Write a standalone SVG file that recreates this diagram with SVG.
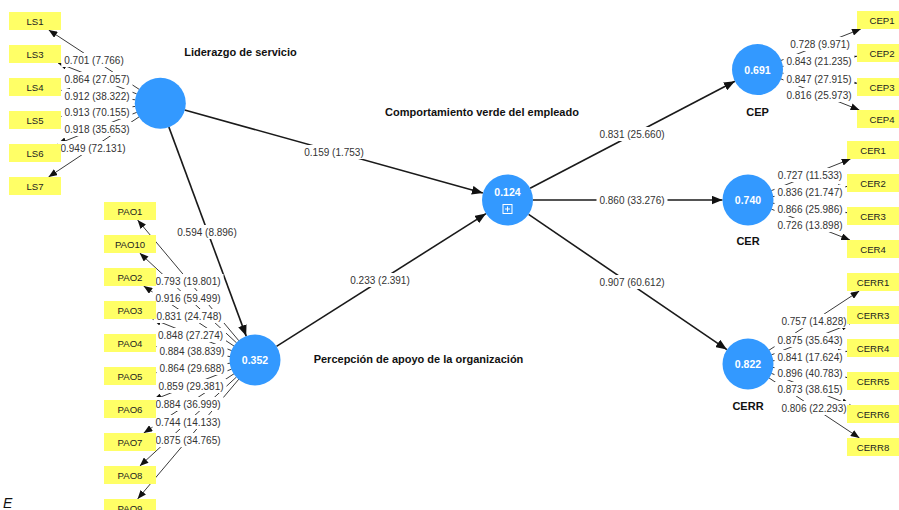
<svg xmlns="http://www.w3.org/2000/svg" width="899" height="510" viewBox="0 0 899 510">
<style>
.bg{fill:#ffffff}
.ln{stroke:#3a3a3a;stroke-width:1;fill:none;marker-end:url(#ai)}
.sl{stroke:#1a1a1a;stroke-width:1.6;fill:none;marker-end:url(#as)}
.lb{fill:#ffffff}
.lt{font-family:"Liberation Sans",Arial,sans-serif;font-size:10px;fill:#333333;text-anchor:middle}
.lv{fill:#3399ff}
.vt{font-family:"Liberation Sans",Arial,sans-serif;font-size:10.5px;font-weight:bold;fill:#ffffff;text-anchor:middle}
.nt{font-family:"Liberation Sans",Arial,sans-serif;font-size:11px;font-weight:bold;fill:#111111;text-anchor:middle}
.ib{fill:#ffff66}
.it{font-family:"Liberation Sans",Arial,sans-serif;font-size:9.6px;fill:#222222;text-anchor:middle}
</style>
<defs>
<marker id="ai" viewBox="0 0 10 8" refX="10" refY="4" markerWidth="9" markerHeight="7" markerUnits="userSpaceOnUse" orient="auto"><path d="M0,0 L10,4 L0,8 z" fill="#111"/></marker>
<marker id="as" viewBox="0 0 10 8" refX="10" refY="4" markerWidth="11" markerHeight="9" markerUnits="userSpaceOnUse" orient="auto"><path d="M0,0 L10,4 L0,8 z" fill="#111"/></marker>
</defs>
<rect class="bg" x="0" y="0" width="899" height="510"/>

<g id="connectors">
  <line class="sl" x1="184.6" y1="109.9" x2="482.9" y2="193.1"/>
  <line class="sl" x1="168.8" y1="126.9" x2="246.2" y2="336.1"/>
  <line class="sl" x1="276.5" y1="346.4" x2="486" y2="213.6"/>
  <line class="sl" x1="530.1" y1="188.2" x2="734.9" y2="81.3"/>
  <line class="sl" x1="533" y1="200" x2="722.5" y2="200"/>
  <line class="sl" x1="528.6" y1="214.4" x2="726.9" y2="349.6"/>
  <line class="ln" x1="139.1" y1="89.3" x2="48.7" y2="30"/>
  <line class="ln" x1="136.7" y1="93.9" x2="58" y2="63"/>
  <line class="ln" x1="135.2" y1="99.8" x2="61" y2="90.3"/>
  <line class="ln" x1="135.2" y1="106.4" x2="61" y2="116.5"/>
  <line class="ln" x1="136.8" y1="112.3" x2="57.5" y2="144"/>
  <line class="ln" x1="139.2" y1="116.8" x2="48.5" y2="177"/>
  <line class="ln" x1="238.9" y1="340.8" x2="137.6" y2="220"/>
  <line class="ln" x1="236.7" y1="343" x2="139.7" y2="253"/>
  <line class="ln" x1="234.2" y1="346.2" x2="143.6" y2="286"/>
  <line class="ln" x1="231.8" y1="350.7" x2="152.5" y2="319"/>
  <line class="ln" x1="230.2" y1="356.6" x2="156" y2="346.5"/>
  <line class="ln" x1="230.2" y1="363.2" x2="156" y2="372.7"/>
  <line class="ln" x1="231.7" y1="369.1" x2="153" y2="400"/>
  <line class="ln" x1="234.1" y1="373.7" x2="143.7" y2="433"/>
  <line class="ln" x1="236.6" y1="376.9" x2="139.8" y2="466"/>
  <line class="ln" x1="238.9" y1="379.1" x2="137.6" y2="499"/>
  <line class="ln" x1="780.7" y1="60.6" x2="860.8" y2="29"/>
  <line class="ln" x1="782.2" y1="66.5" x2="857" y2="56.2"/>
  <line class="ln" x1="782.3" y1="73.1" x2="857" y2="83.2"/>
  <line class="ln" x1="780.9" y1="78.9" x2="859.4" y2="110"/>
  <line class="ln" x1="771.2" y1="190.7" x2="850.5" y2="159"/>
  <line class="ln" x1="772.8" y1="196.6" x2="847" y2="186.5"/>
  <line class="ln" x1="772.8" y1="203.2" x2="847" y2="212.7"/>
  <line class="ln" x1="771.3" y1="209.1" x2="850" y2="240"/>
  <line class="ln" x1="768.9" y1="350.3" x2="859.3" y2="291"/>
  <line class="ln" x1="771.3" y1="354.9" x2="850" y2="324"/>
  <line class="ln" x1="772.8" y1="360.8" x2="847" y2="351.3"/>
  <line class="ln" x1="772.8" y1="367.4" x2="847" y2="377.5"/>
  <line class="ln" x1="771.2" y1="373.3" x2="850.5" y2="405"/>
  <line class="ln" x1="768.8" y1="377.8" x2="859.5" y2="438"/>

  <g id="connector-labels">
    <rect class="lb" x="301.2" y="145" width="65.5" height="14"/><text class="lt" x="334" y="155.5">0.159 (1.753)</text>
    <rect class="lb" x="174.2" y="225" width="65.5" height="14"/><text class="lt" x="207" y="235.5">0.594 (8.896)</text>
    <rect class="lb" x="347.2" y="273" width="65.5" height="14"/><text class="lt" x="380" y="283.5">0.233 (2.391)</text>
    <rect class="lb" x="596.5" y="127" width="71" height="14"/><text class="lt" x="632" y="137.5">0.831 (25.660)</text>
    <rect class="lb" x="596.5" y="193" width="71" height="14"/><text class="lt" x="632" y="203.5">0.860 (33.276)</text>
    <rect class="lb" x="596.5" y="275" width="71" height="14"/><text class="lt" x="632" y="285.5">0.907 (60.612)</text>

    <rect class="lb" x="61.2" y="53" width="65.5" height="14"/><text class="lt" x="94" y="63.5">0.701 (7.766)</text>
    <rect class="lb" x="61.5" y="72" width="71" height="14"/><text class="lt" x="97" y="82.5">0.864 (27.057)</text>
    <rect class="lb" x="61.5" y="89" width="71" height="14"/><text class="lt" x="97" y="99.5">0.912 (38.322)</text>
    <rect class="lb" x="61.5" y="105" width="71" height="14"/><text class="lt" x="97" y="115.5">0.913 (70.155)</text>
    <rect class="lb" x="61.5" y="122" width="71" height="14"/><text class="lt" x="97" y="132.5">0.918 (35.653)</text>
    <rect class="lb" x="57.5" y="141" width="71" height="14"/><text class="lt" x="93" y="151.5">0.949 (72.131)</text>

    <rect class="lb" x="152.5" y="274" width="71" height="14"/><text class="lt" x="188" y="284.5">0.793 (19.801)</text>
    <rect class="lb" x="152.5" y="291" width="71" height="14"/><text class="lt" x="188" y="301.5">0.916 (59.499)</text>
    <rect class="lb" x="153.5" y="309" width="71" height="14"/><text class="lt" x="189" y="319.5">0.831 (24.748)</text>
    <rect class="lb" x="155" y="328" width="71" height="14"/><text class="lt" x="190.5" y="338.5">0.848 (27.274)</text>
    <rect class="lb" x="156.5" y="344" width="71" height="14"/><text class="lt" x="192" y="354.5">0.884 (38.839)</text>
    <rect class="lb" x="156.5" y="361" width="71" height="14"/><text class="lt" x="192" y="371.5">0.864 (29.688)</text>
    <rect class="lb" x="155.5" y="379" width="71" height="14"/><text class="lt" x="191" y="389.5">0.859 (29.381)</text>
    <rect class="lb" x="152.5" y="397" width="71" height="14"/><text class="lt" x="188" y="407.5">0.884 (36.999)</text>
    <rect class="lb" x="152.5" y="415" width="71" height="14"/><text class="lt" x="188" y="425.5">0.744 (14.133)</text>
    <rect class="lb" x="152.5" y="433" width="71" height="14"/><text class="lt" x="188" y="443.5">0.875 (34.765)</text>

    <rect class="lb" x="787.2" y="37" width="65.5" height="14"/><text class="lt" x="820" y="47.5">0.728 (9.971)</text>
    <rect class="lb" x="783.5" y="54" width="71" height="14"/><text class="lt" x="819" y="64.5">0.843 (21.235)</text>
    <rect class="lb" x="783.5" y="72" width="71" height="14"/><text class="lt" x="819" y="82.5">0.847 (27.915)</text>
    <rect class="lb" x="783.5" y="88" width="71" height="14"/><text class="lt" x="819" y="98.5">0.816 (25.973)</text>

    <rect class="lb" x="774.5" y="168" width="71" height="14"/><text class="lt" x="810" y="178.5">0.727 (11.533)</text>
    <rect class="lb" x="774.5" y="185" width="71" height="14"/><text class="lt" x="810" y="195.5">0.836 (21.747)</text>
    <rect class="lb" x="774.5" y="202" width="71" height="14"/><text class="lt" x="810" y="212.5">0.866 (25.986)</text>
    <rect class="lb" x="774.5" y="218" width="71" height="14"/><text class="lt" x="810" y="228.5">0.726 (13.898)</text>

    <rect class="lb" x="778.5" y="314" width="71" height="14"/><text class="lt" x="814" y="324.5">0.757 (14.828)</text>
    <rect class="lb" x="774.5" y="333" width="71" height="14"/><text class="lt" x="810" y="343.5">0.875 (35.643)</text>
    <rect class="lb" x="774.5" y="350" width="71" height="14"/><text class="lt" x="810" y="360.5">0.841 (17.624)</text>
    <rect class="lb" x="774.5" y="366" width="71" height="14"/><text class="lt" x="810" y="376.5">0.896 (40.783)</text>
    <rect class="lb" x="774.5" y="382" width="71" height="14"/><text class="lt" x="810" y="392.5">0.873 (38.615)</text>
    <rect class="lb" x="778.5" y="401" width="71" height="14"/><text class="lt" x="814" y="411.5">0.806 (22.293)</text>
  </g>
</g>

<g id="node-LS">
  <circle class="lv" cx="160.3" cy="103.3" r="25.5"/>
  <text class="nt" x="240.5" y="56">Liderazgo de servicio</text>
</g>
<g id="node-CVE">
  <circle class="lv" cx="507.5" cy="200" r="25.5"/>
  <text class="vt" x="507.5" y="196">0.124</text>
  <rect x="503" y="204.5" width="9" height="9" fill="none" stroke="#ffffff" stroke-width="1"/>
  <path d="M507.5,206.5 V211.5 M505,209 H510" stroke="#ffffff" stroke-width="1"/>
  <text class="nt" x="482" y="116">Comportamiento verde del empleado</text>
</g>
<g id="node-PAO">
  <circle class="lv" cx="255" cy="360" r="25.5"/>
  <text class="vt" x="255" y="364">0.352</text>
  <text class="nt" x="418.5" y="363">Percepción de apoyo de la organización</text>
</g>
<g id="node-CEP">
  <circle class="lv" cx="757.5" cy="69.5" r="25.5"/>
  <text class="vt" x="757.5" y="73.5">0.691</text>
  <text class="nt" x="757.5" y="116">CEP</text>
</g>
<g id="node-CER">
  <circle class="lv" cx="748" cy="200" r="25.5"/>
  <text class="vt" x="748" y="204">0.740</text>
  <text class="nt" x="748" y="245">CER</text>
</g>
<g id="node-CERR">
  <circle class="lv" cx="748" cy="364" r="25.5"/>
  <text class="vt" x="748" y="368">0.822</text>
  <text class="nt" x="748" y="410">CERR</text>
</g>

<g id="ind-LS1"><rect class="ib" x="9" y="12" width="52" height="18"/><text class="it" x="35" y="24.5">LS1</text></g>
<g id="ind-LS3"><rect class="ib" x="9" y="45" width="52" height="18"/><text class="it" x="35" y="57.5">LS3</text></g>
<g id="ind-LS4"><rect class="ib" x="9" y="78" width="52" height="18"/><text class="it" x="35" y="90.5">LS4</text></g>
<g id="ind-LS5"><rect class="ib" x="9" y="111" width="52" height="18"/><text class="it" x="35" y="123.5">LS5</text></g>
<g id="ind-LS6"><rect class="ib" x="9" y="144" width="52" height="18"/><text class="it" x="35" y="156.5">LS6</text></g>
<g id="ind-LS7"><rect class="ib" x="9" y="177" width="52" height="18"/><text class="it" x="35" y="189.5">LS7</text></g>

<g id="ind-PAO1"><rect class="ib" x="104" y="202" width="52" height="18"/><text class="it" x="130" y="214.5">PAO1</text></g>
<g id="ind-PAO10"><rect class="ib" x="104" y="235" width="52" height="18"/><text class="it" x="130" y="247.5">PAO10</text></g>
<g id="ind-PAO2"><rect class="ib" x="104" y="268" width="52" height="18"/><text class="it" x="130" y="280.5">PAO2</text></g>
<g id="ind-PAO3"><rect class="ib" x="104" y="301" width="52" height="18"/><text class="it" x="130" y="313.5">PAO3</text></g>
<g id="ind-PAO4"><rect class="ib" x="104" y="334" width="52" height="18"/><text class="it" x="130" y="346.5">PAO4</text></g>
<g id="ind-PAO5"><rect class="ib" x="104" y="367" width="52" height="18"/><text class="it" x="130" y="379.5">PAO5</text></g>
<g id="ind-PAO6"><rect class="ib" x="104" y="400" width="52" height="18"/><text class="it" x="130" y="412.5">PAO6</text></g>
<g id="ind-PAO7"><rect class="ib" x="104" y="433" width="52" height="18"/><text class="it" x="130" y="445.5">PAO7</text></g>
<g id="ind-PAO8"><rect class="ib" x="104" y="466" width="52" height="18"/><text class="it" x="130" y="478.5">PAO8</text></g>
<g id="ind-PAO9"><rect class="ib" x="104" y="499" width="52" height="18"/><text class="it" x="130" y="511.5">PAO9</text></g>

<g id="ind-CEP1"><rect class="ib" x="857" y="11" width="52" height="18"/><text class="it" x="882" y="23.5">CEP1</text></g>
<g id="ind-CEP2"><rect class="ib" x="857" y="44" width="52" height="18"/><text class="it" x="882" y="56.5">CEP2</text></g>
<g id="ind-CEP3"><rect class="ib" x="857" y="78" width="52" height="18"/><text class="it" x="882" y="90.5">CEP3</text></g>
<g id="ind-CEP4"><rect class="ib" x="857" y="110" width="52" height="18"/><text class="it" x="882" y="122.5">CEP4</text></g>

<g id="ind-CER1"><rect class="ib" x="847" y="141" width="52" height="18"/><text class="it" x="873" y="153.5">CER1</text></g>
<g id="ind-CER2"><rect class="ib" x="847" y="174" width="52" height="18"/><text class="it" x="873" y="186.5">CER2</text></g>
<g id="ind-CER3"><rect class="ib" x="847" y="207" width="52" height="18"/><text class="it" x="873" y="219.5">CER3</text></g>
<g id="ind-CER4"><rect class="ib" x="847" y="240" width="52" height="18"/><text class="it" x="873" y="252.5">CER4</text></g>

<g id="ind-CERR1"><rect class="ib" x="847" y="273" width="52" height="18"/><text class="it" x="873" y="285.5">CERR1</text></g>
<g id="ind-CERR3"><rect class="ib" x="847" y="306" width="52" height="18"/><text class="it" x="873" y="318.5">CERR3</text></g>
<g id="ind-CERR4"><rect class="ib" x="847" y="339" width="52" height="18"/><text class="it" x="873" y="351.5">CERR4</text></g>
<g id="ind-CERR5"><rect class="ib" x="847" y="372" width="52" height="18"/><text class="it" x="873" y="384.5">CERR5</text></g>
<g id="ind-CERR6"><rect class="ib" x="847" y="405" width="52" height="18"/><text class="it" x="873" y="417.5">CERR6</text></g>
<g id="ind-CERR8"><rect class="ib" x="847" y="438" width="52" height="18"/><text class="it" x="873" y="450.5">CERR8</text></g>

<text x="3" y="508" font-family="Liberation Sans, Arial, sans-serif" font-size="14" font-style="italic" fill="#111">E</text>
</svg>
